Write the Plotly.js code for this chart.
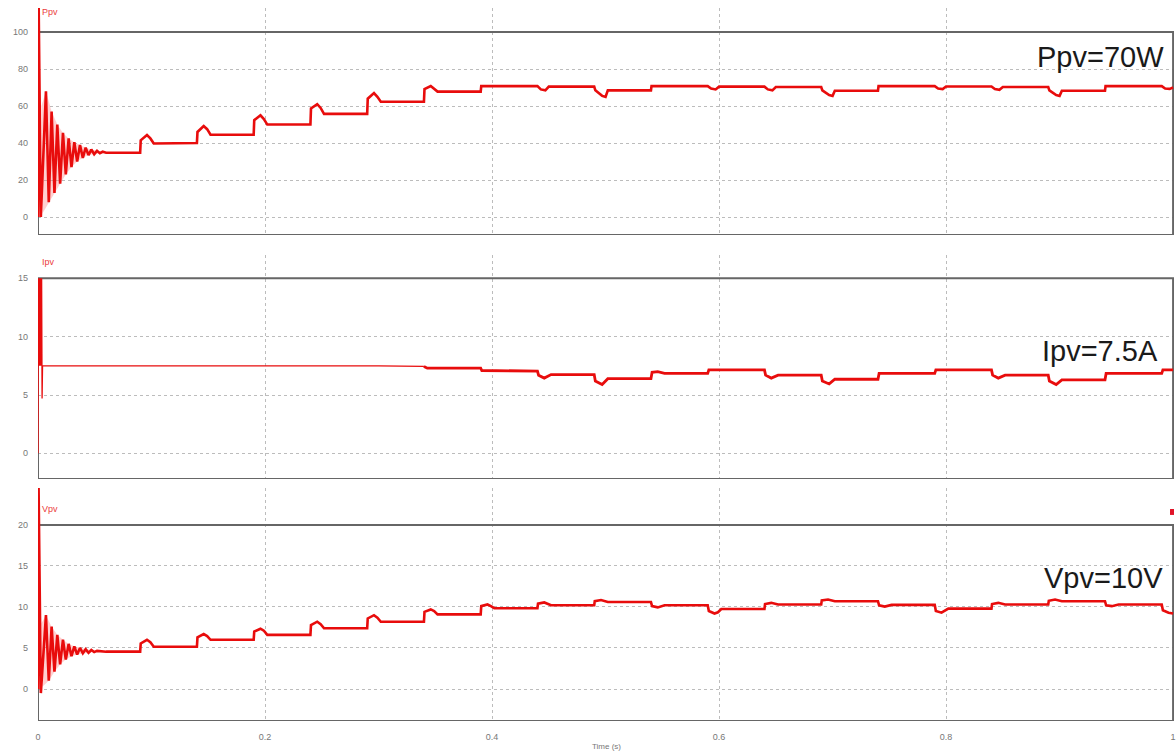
<!DOCTYPE html>
<html>
<head>
<meta charset="utf-8">
<script src="https://cdn.plot.ly/plotly-3.0.1.min.js"></script>
<style>html,body{margin:0;padding:0;background:#fff;}#chart{width:1176px;height:753px;}</style>
</head>
<body>
<div id="chart"></div>
<script>
// ---- data (time in s) ----
const ppvT = [0,0.0004,0.0025,0.007,0.0095,0.012,0.0145,0.017,0.0195,0.022,0.0245,0.027,0.0295,0.032,0.0345,0.037,0.0395,0.042,0.0445,0.047,0.0495,0.052,0.0545,0.057,0.06,
  0.09,0.0905,0.096,0.099,0.102,0.14,
  0.1405,0.146,0.149,0.152,0.19,
  0.1905,0.196,0.199,0.202,0.24,
  0.2405,0.246,0.249,0.252,0.29,
  0.2905,0.296,0.299,0.302,0.34,
  0.3405,0.346,0.349,0.352,0.39,
  0.3905,0.44,0.443,0.447,0.45,0.49,0.491,0.497,0.5,0.502,0.54,0.5405,0.59,0.593,0.597,0.6,0.64,0.643,0.647,0.65,
  0.69,0.691,0.697,0.7,0.702,0.74,0.7405,0.79,0.793,0.797,0.8,0.84,0.843,0.847,0.85,0.89,0.891,0.897,0.9,0.902,0.94,0.9405,0.99,0.993,0.997,1.0];
const ppvV = [0,125,0,68,8,57,13,50,18,45.5,23,42.5,27,40.5,30,39,32,37.5,33.5,36.5,34,35.8,34.5,35.3,34.8,
  34.8,41.5,44.3,42.5,39.8,40,
  46,49.2,47.5,44.5,44.5,
  52.4,55,53,50,50,
  58.7,61,59,55.8,55.8,
  64,67,65,62.3,62.3,
  69.2,70.8,69.5,67.8,67.8,
  70.8,70.8,69,68.5,70.5,70.5,68.5,65.5,65,68.5,68.5,70.8,70.8,69.5,69,70.5,70.5,69,68.5,70.3,
  70.3,68.5,66,65.5,68.3,68.3,70.8,70.8,69.5,69.2,70.6,70.6,69.2,68.8,70.3,70.3,68.5,66,65.5,68.3,68.3,70.8,70.8,69.5,69.3,70];
// envelope of the start-up ripple (pink band)
const ppvBandT = [0.003,0.007,0.012,0.017,0.022,0.027,0.032,0.037,0.042,0.047,0.052,0.057,0.057,0.0545,0.0495,0.0445,0.0395,0.0345,0.0295,0.0245,0.0195,0.0145,0.0095,0.004];
const ppvBandV = [60,68,57,50,45.5,42.5,40.5,39,37.5,36.5,35.8,35.3,35.3,34.5,34,33.5,32,30,27,23,18,13,8,2];

const ipvStartT = [0,0.0003,0.0008,0.0012,0.0018,0.0022,0.0028,0.0032,0.0036,0.004,0.30,0.33,0.34];
const ipvStartV = [0,15,7.5,15,7.5,15,7.5,15,4.7,7.5,7.5,7.48,7.45];
const ipvT = [0.34,0.343,0.39,0.391,0.44,0.441,0.446,0.452,0.49,0.491,0.497,0.502,0.54,0.541,0.546,0.552,0.59,0.591,0.64,0.641,0.646,0.652,
  0.69,0.691,0.697,0.702,0.74,0.741,0.79,0.791,0.84,0.841,0.846,0.852,0.89,0.891,0.897,0.902,0.94,0.941,0.99,0.991,1.0];
const ipvV = [7.45,7.3,7.3,7.1,7.05,6.7,6.45,6.75,6.75,6.2,5.9,6.4,6.4,6.95,7.0,6.85,6.85,7.15,7.15,6.7,6.45,6.7,
  6.7,6.2,5.95,6.35,6.35,6.85,6.85,7.15,7.15,6.7,6.45,6.7,6.7,6.2,5.9,6.3,6.3,6.85,6.85,7.15,7.15];

const vpvT = [0,0.0004,0.0025,0.007,0.0095,0.012,0.0145,0.017,0.0195,0.022,0.0245,0.027,0.0295,0.032,0.0345,0.037,0.0395,0.042,0.0445,0.047,0.0495,0.052,0.06,
  0.09,0.0905,0.096,0.099,0.102,0.14,
  0.1405,0.146,0.149,0.152,0.19,
  0.1905,0.196,0.199,0.202,0.24,
  0.2405,0.246,0.249,0.252,0.29,
  0.2905,0.296,0.299,0.302,0.34,
  0.3405,0.346,0.349,0.352,0.39,
  0.3905,0.396,0.399,0.402,0.44,
  0.4405,0.446,0.449,0.452,0.49,
  0.4905,0.496,0.499,0.502,0.54,
  0.541,0.546,0.549,0.552,0.59,
  0.591,0.596,0.599,0.602,0.64,
  0.6405,0.646,0.652,0.69,
  0.6905,0.696,0.702,0.74,
  0.741,0.746,0.752,0.79,
  0.791,0.796,0.802,0.84,
  0.8405,0.846,0.852,0.89,
  0.8905,0.896,0.902,0.94,
  0.941,0.946,0.952,0.99,
  0.991,0.996,1.0];
const vpvV = [0,26,-0.5,9.0,1.0,7.6,2.1,6.6,3.0,6.0,3.6,5.5,4.0,5.2,4.2,5.0,4.35,4.85,4.4,4.75,4.5,4.65,4.55,
  4.55,5.55,6.0,5.7,5.15,5.15,
  6.3,6.7,6.45,6.0,6.0,
  7.0,7.35,7.1,6.6,6.6,
  7.8,8.2,7.9,7.4,7.4,
  8.6,9.0,8.7,8.2,8.2,
  9.4,9.7,9.5,9.1,9.1,
  10.1,10.3,10.1,9.85,9.85,
  10.4,10.55,10.4,10.2,10.2,
  10.7,10.85,10.75,10.6,10.6,
  10.1,9.95,10.05,10.2,10.2,
  9.5,9.2,9.35,9.75,9.75,
  10.35,10.5,10.3,10.3,
  10.8,10.9,10.7,10.7,
  10.2,10.05,10.25,10.25,
  9.5,9.3,9.8,9.8,
  10.35,10.5,10.3,10.3,
  10.75,10.9,10.7,10.7,
  10.2,10.1,10.3,10.3,
  9.6,9.3,9.2];
const vpvBandT = [0.003,0.007,0.012,0.017,0.022,0.027,0.032,0.037,0.042,0.047,0.052,0.052,0.0495,0.0445,0.0395,0.0345,0.0295,0.0245,0.0195,0.0145,0.0095,0.004];
const vpvBandV = [8,9.0,7.6,6.6,6.0,5.5,5.2,5.0,4.85,4.75,4.65,4.65,4.5,4.4,4.35,4.2,4.0,3.6,3.0,2.1,1.0,0.3];

const xTickVals = [0,0.2,0.4,0.6,0.8,1];
const xTickText = ['0','0.2','0.4','0.6','0.8','1'];
const ppvTicks = [0,20,40,60,80,100];
const ipvTicks = [0,5,10,15];
const vpvTicks = [0,5,10,15,20];
const seriesNames = ['Ppv','Ipv','Vpv'];
const noteTexts = ['Ppv=70W','Ipv=7.5A','Vpv=10V'];
const xTitle = 'Time (s)';

// ---- drawing ----
const RED = 'rgb(232,12,12)';
const PINK = 'rgba(255,120,120,0.35)';
const traces = [
  {x: ppvBandT, y: ppvBandV, xaxis:'x', yaxis:'y', mode:'lines', fill:'toself', fillcolor:PINK, line:{width:0}, hoverinfo:'skip'},
  {x: ppvT, y: ppvV, xaxis:'x', yaxis:'y', mode:'lines', line:{color:RED, width:2.6, shape:'linear'}, hoverinfo:'skip'},
  {x: ipvStartT, y: ipvStartV, xaxis:'x', yaxis:'y2', mode:'lines', line:{color:RED, width:1.3}, hoverinfo:'skip'},
  {x: ipvT, y: ipvV, xaxis:'x', yaxis:'y2', mode:'lines', line:{color:RED, width:2.8}, hoverinfo:'skip'},
  {x: vpvBandT, y: vpvBandV, xaxis:'x', yaxis:'y3', mode:'lines', fill:'toself', fillcolor:PINK, line:{width:0}, hoverinfo:'skip'},
  {x: vpvT, y: vpvV, xaxis:'x', yaxis:'y3', mode:'lines', line:{color:RED, width:2.6}, hoverinfo:'skip'}
];

const tickFont = {family:'Liberation Sans, Arial, sans-serif', size:9, color:'#777'};
const GRID = '#bcbcbc';
function yax(domain, range, ticks) {
  return {domain: domain, range: range, tickvals: ticks, ticktext: ticks.map(String),
    tickfont: tickFont, showgrid:true, gridcolor:GRID, griddash:'dot', gridwidth:1,
    zeroline:false, showline:false, ticks:'', ticklabelstandoff: 9, fixedrange:true};
}
const r1 = [-9.7, 113], r2 = [-2.2, 17.0], r3 = [-3.9, 24.5];
const frame = (yref, y0, y1) => ({type:'rect', xref:'x', yref: yref, x0:0, x1:1, y0:y0, y1:y1,
  line:{color:'#666', width:2}, fillcolor:'rgba(0,0,0,0)', layer:'between'});
const lblFont = {family:'Liberation Sans, Arial', size:9, color:'rgb(235,60,60)'};
const noteFont = {family:'Liberation Sans, Arial', size:29, color:'#1a1a1a'};

const layout = {
  width:1176, height:753,
  margin:{l:38, r:2, t:8, b:32},
  paper_bgcolor:'#fff', plot_bgcolor:'#fff',
  showlegend:false,
  xaxis:{domain:[0,1], range:[0,1.0008], anchor:'y3', tickvals:xTickVals, ticktext:xTickText,
    tickfont: tickFont, showgrid:true, gridcolor:GRID, griddash:'dot', gridwidth:1,
    zeroline:false, showline:false, ticks:'', ticklabelstandoff: 9, fixedrange:true},
  yaxis: yax([0.6816,1], r1, ppvTicks),
  yaxis2: yax([0.3394,0.6536], r2, ipvTicks),
  yaxis3: yax([0,0.3268], r3, vpvTicks),
  shapes:[
    frame('y', r1[0], 100), frame('y2', r2[0], 15), frame('y3', r3[0], 20),
    {type:'rect', xref:'paper', yref:'paper', x0:0.9965, x1:1.0, y0:0.289, y1:0.2973,
      line:{width:0}, fillcolor:'rgb(225,20,40)'}
  ],
  annotations:[
    {text: seriesNames[0], xref:'paper', yref:'paper', x:0.002, y:0.994, xanchor:'left', yanchor:'middle', showarrow:false, font:lblFont},
    {text: seriesNames[1], xref:'paper', yref:'paper', x:0.002, y:0.644, xanchor:'left', yanchor:'middle', showarrow:false, font:lblFont},
    {text: seriesNames[2], xref:'paper', yref:'paper', x:0.002, y:0.297, xanchor:'left', yanchor:'middle', showarrow:false, font:lblFont},
    {text: noteTexts[0], xref:'paper', yref:'paper', x:0.993, y:0.931, xanchor:'right', yanchor:'middle', showarrow:false, font:noteFont},
    {text: noteTexts[1], xref:'paper', yref:'paper', x:0.988, y:0.519, xanchor:'right', yanchor:'middle', showarrow:false, font:noteFont},
    {text: noteTexts[2], xref:'paper', yref:'paper', x:0.992, y:0.2006, xanchor:'right', yanchor:'middle', showarrow:false, font:noteFont},
    {text: xTitle, xref:'paper', yref:'paper', x:0.5, y:-0.0265, xanchor:'center', yanchor:'top', showarrow:false, font:{family:'Liberation Sans, Arial', size:8, color:'#777'}}
  ]
};

Plotly.newPlot('chart', traces, layout, {staticPlot:true, displayModeBar:false});
</script>
</body>
</html>
